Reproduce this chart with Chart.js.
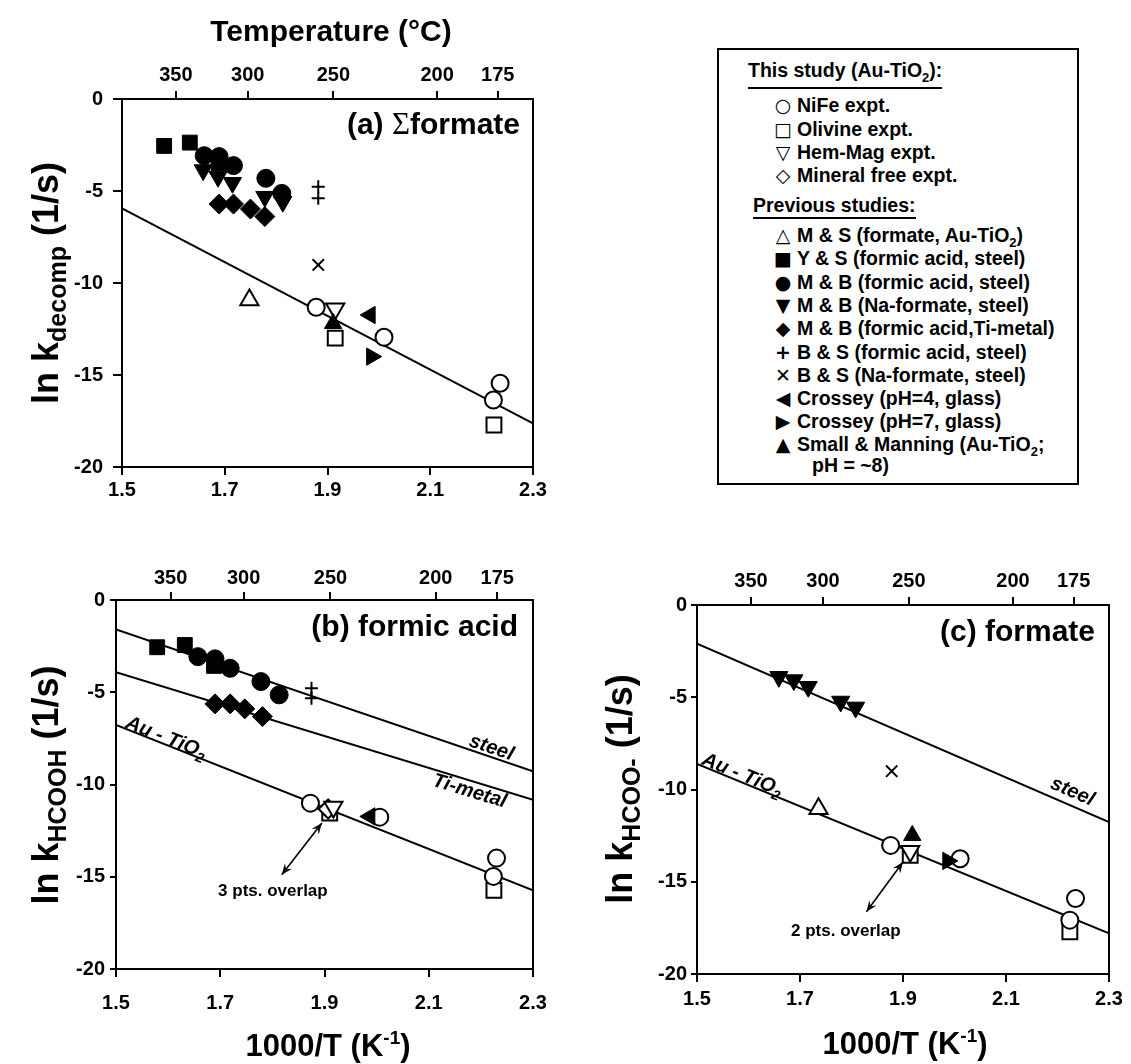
<!DOCTYPE html>
<html><head><meta charset="utf-8">
<script src="https://cdn.jsdelivr.net/npm/chart.js@4.4.1/dist/chart.umd.min.js"></script>
<style>
html,body{margin:0;padding:0;background:#fff;}
#wrap{position:relative;width:1131px;height:1064px;overflow:hidden;background:#fff;}
#wrap canvas{position:absolute;left:0;top:0;}
#legend{position:absolute;left:717px;top:48px;width:362px;height:437px;border:2px solid #000;box-sizing:border-box;font-family:"Liberation Sans",Arial,sans-serif;font-weight:bold;font-size:19.5px;color:#000;background:#fff;}
.row{position:absolute;left:0;height:24px;line-height:24px;white-space:nowrap;width:100%;}
.mk{position:absolute;left:54px;width:20px;text-align:center;font-family:"DejaVu Sans",sans-serif;font-size:19px;}
.tx{position:absolute;left:78px;}
.hd{position:absolute;border-bottom:2px solid #000;line-height:24px;height:24px;white-space:nowrap;}
sub{font-size:13px;vertical-align:-5px;line-height:0;}
</style></head>
<body><div id="wrap">
<canvas id="ca" width="1131" height="1064" style="width:1131px;height:1064px"></canvas>
<canvas id="cb" width="1131" height="1064" style="width:1131px;height:1064px"></canvas>
<canvas id="cc" width="1131" height="1064" style="width:1131px;height:1064px"></canvas>
<div id="legend">
 <div class="hd" style="left:29px;top:8px;padding-bottom:5px;">This study (Au-TiO<sub>2</sub>):</div>
 <div class="row" style="top:43px"><span class="mk">○</span><span class="tx">NiFe expt.</span></div>
 <div class="row" style="top:67px"><span class="mk">□</span><span class="tx">Olivine expt.</span></div>
 <div class="row" style="top:90px"><span class="mk">▽</span><span class="tx">Hem-Mag expt.</span></div>
 <div class="row" style="top:113px"><span class="mk">◇</span><span class="tx">Mineral free expt.</span></div>
 <div class="hd" style="left:34px;top:143px;padding-bottom:0px;">Previous studies:</div>
 <div class="row" style="top:173px"><span class="mk">△</span><span class="tx">M &amp; S (formate, Au-TiO<sub>2</sub>)</span></div>
 <div class="row" style="top:196px"><span class="mk">■</span><span class="tx">Y &amp; S (formic acid, steel)</span></div>
 <div class="row" style="top:220px"><span class="mk">●</span><span class="tx">M &amp; B (formic acid, steel)</span></div>
 <div class="row" style="top:243px"><span class="mk">▼</span><span class="tx">M &amp; B (Na-formate, steel)</span></div>
 <div class="row" style="top:266px"><span class="mk">◆</span><span class="tx">M &amp; B (formic acid,Ti-metal)</span></div>
 <div class="row" style="top:290px"><span class="mk" style="font-weight:bold">+</span><span class="tx">B &amp; S (formic acid, steel)</span></div>
 <div class="row" style="top:313px"><span class="mk">✕</span><span class="tx">B &amp; S (Na-formate, steel)</span></div>
 <div class="row" style="top:336px"><span class="mk">◀</span><span class="tx">Crossey (pH=4, glass)</span></div>
 <div class="row" style="top:359px"><span class="mk">▶</span><span class="tx">Crossey (pH=7, glass)</span></div>
 <div class="row" style="top:382px"><span class="mk">▲</span><span class="tx">Small &amp; Manning (Au-TiO<sub>2</sub>;</span></div>
 <div class="row" style="top:403px"><span class="tx" style="left:93px">pH = ~8)</span></div>
</div>
</div>
<script>
// ---------- axis ticks ----------
const xTicks = [1.5, 1.7, 1.9, 2.1, 2.3];
const yTicks = [0, -5, -10, -15, -20];
const tempTicksC = [350, 300, 250, 200, 175];

// ---------- panel (a) Σformate ----------
const a_NiFe    = [[1.878,-11.32],[2.010,-12.95],[2.236,-15.45],[2.223,-16.36]];
const a_Olivine = [[1.915,-13.0],[2.224,-17.72]];
const a_HemMag  = [[1.915,-11.40]];
const a_MS      = [[1.748,-10.92]];
const a_YS      = [[1.582,-2.55],[1.632,-2.37],[1.688,-3.5]];
const a_MBacid  = [[1.660,-3.08],[1.689,-3.13],[1.717,-3.62],[1.780,-4.31],[1.811,-5.13]];
const a_MBna    = [[1.658,-3.86],[1.687,-4.22],[1.715,-4.55],[1.778,-5.31],[1.813,-5.58]];
const a_MBti    = [[1.689,-5.71],[1.717,-5.71],[1.750,-5.98],[1.778,-6.39]];
const a_BSacid  = [[1.882,-4.77],[1.882,-5.40]];
const a_BSna    = [[1.882,-9.02]];
const a_C4      = [[1.983,-11.74]];
const a_C7      = [[1.986,-14.0]];
const a_SM      = [[1.911,-12.2]];
const a_fitAu   = [[1.5,-5.94],[2.3,-17.63]];

// ---------- panel (b) formic acid ----------
const b_NiFe    = [[1.873,-11.01],[2.006,-11.77],[2.230,-13.99],[2.224,-14.98]];
const b_Olivine = [[1.910,-11.55],[2.225,-15.74]];
const b_HemMag  = [[1.917,-11.22]];
const b_MinFree = [[1.907,-11.33]];
const b_YS      = [[1.579,-2.56],[1.632,-2.44],[1.688,-3.57]];
const b_MBacid  = [[1.657,-3.07],[1.690,-3.19],[1.719,-3.70],[1.778,-4.42],[1.813,-5.14]];
const b_MBti    = [[1.690,-5.63],[1.719,-5.63],[1.747,-5.90],[1.781,-6.32]];
const b_BSacid  = [[1.875,-4.78],[1.875,-5.32]];
const b_C4      = [[1.987,-11.73]];
const b_fitSteel= [[1.5,-1.59],[2.3,-9.29]];
const b_fitTi   = [[1.5,-3.92],[2.3,-10.83]];
const b_fitAu   = [[1.5,-6.77],[2.3,-15.74]];

// ---------- panel (c) formate ----------
const c_NiFe    = [[1.876,-13.03],[2.011,-13.75],[2.235,-15.91],[2.224,-17.08]];
const c_Olivine = [[1.914,-13.57],[2.224,-17.71]];
const c_HemMag  = [[1.914,-13.35]];
const c_MS      = [[1.736,-11.05]];
const c_MBna    = [[1.659,-3.89],[1.688,-4.07],[1.716,-4.43],[1.779,-5.23],[1.808,-5.55]];
const c_BSna    = [[1.878,-9.01]];
const c_C7      = [[1.987,-13.87]];
const c_SM      = [[1.918,-12.49]];
const c_fitSteel= [[1.5,-2.09],[2.3,-11.77]];
const c_fitAu   = [[1.5,-8.61],[2.3,-17.80]];

// ---------- styles ----------
const FF = '"Liberation Sans", Arial, sans-serif';
const tickFont = {family: FF, size: 20, weight: 'bold'};
const STY = {
  NiFe:    {ps:'circle',  r:8.5, fill:'#fff', bw:2},
  Olivine: {ps:'rect',    r:10.5,fill:'#fff', bw:2},
  HemMag:  {ps:'triangle',r:10.5,fill:'#fff', bw:2, rot:180},
  MinFree: {ps:'rectRot', r:9.5, fill:'#fff', bw:2},
  MS:      {ps:'triangle',r:10.5,fill:'#fff', bw:2},
  YS:      {ps:'rect',    r:10.5,fill:'#000', bw:1},
  MBacid:  {ps:'circle',  r:9,   fill:'#000', bw:1},
  MBna:    {ps:'triangle',r:10.5,fill:'#000', bw:1, rot:180},
  MBti:    {ps:'rectRot', r:10,  fill:'#000', bw:1},
  BSacid:  {ps:'cross',   r:6.5, fill:'#000', bw:2},
  BSna:    {ps:'crossRot',r:8,   fill:'#000', bw:2},
  C4:      {ps:'triangle',r:10,  fill:'#000', bw:1, rot:270},
  C7:      {ps:'triangle',r:10,  fill:'#000', bw:1, rot:90},
  SM:      {ps:'triangle',r:10,  fill:'#000', bw:1}
};
const toXY = a => a.map(p => ({x:p[0], y:p[1]}));
function pointDs(key, arr){
  const s = STY[key];
  return {label:key, data:toXY(arr), showLine:false, order:1,
    pointStyle:s.ps, pointRadius:s.r, pointHoverRadius:s.r, pointRotation:s.rot||0,
    pointBackgroundColor:s.fill, pointBorderColor:'#000', pointBorderWidth:s.bw, pointHoverBorderWidth:s.bw};
}
function lineDs(name, arr){
  return {label:name, data:toXY(arr), showLine:true, order:10, borderColor:'#000', borderWidth:2,
    pointRadius:0, pointHoverRadius:0, fill:false, tension:0};
}

function fontStr(r){ return (r.it?'italic ':'') + (r.wt||'bold') + ' ' + r.s + 'px ' + (r.fam||FF); }
function drawRuns(ctx, list, x, y, align, ang){
  ctx.save(); ctx.translate(x, y); ctx.rotate(ang||0);
  let total = 0;
  list.forEach(r => { ctx.font = fontStr(r); r._w = ctx.measureText(r.t).width; total += r._w; });
  let cx = align==='center' ? -total/2 : (align==='right' ? -total : 0);
  ctx.fillStyle = '#000'; ctx.textAlign = 'left'; ctx.textBaseline = 'alphabetic';
  list.forEach(r => { ctx.font = fontStr(r); ctx.fillText(r.t, cx, r.dy||0); cx += r._w; });
  ctx.restore();
}
function head(ctx, x, y, ang){
  ctx.save(); ctx.translate(x, y); ctx.rotate(ang);
  ctx.beginPath(); ctx.moveTo(0,0); ctx.lineTo(-11,-4.5); ctx.lineTo(-7,0); ctx.lineTo(-11,4.5); ctx.closePath(); ctx.fill();
  ctx.restore();
}
function decoPlugin(cfg){
  return {id:'deco', afterDraw(c){
    const ctx = c.ctx, xs = c.scales.x, ys = c.scales.y, a = c.chartArea;
    const P = d => [xs.getPixelForValue(d[0]), ys.getPixelForValue(d[1])];
    ctx.save(); ctx.strokeStyle = '#000'; ctx.lineWidth = 2;
    ctx.strokeRect(a.left, a.top, a.right-a.left, a.bottom-a.top); ctx.restore();
    (cfg.texts||[]).forEach(t => drawRuns(ctx, t.runs, t.x, t.y, t.align, t.rot||0));
    (cfg.lineLabels||[]).forEach(l => {
      const p1 = P(l.line[0]), p2 = P(l.line[1]);
      const ang = Math.atan2(p2[1]-p1[1], p2[0]-p1[0]);
      const p = P(l.at);
      drawRuns(ctx, l.runs, p[0], p[1], 'center', ang);
    });
    (cfg.notes||[]).forEach(n => { const p = P(n.at); drawRuns(ctx, n.runs, p[0], p[1], 'center', 0); });
    (cfg.arrows||[]).forEach(ar => {
      const p1 = P(ar.from), p2 = P(ar.to);
      const ang = Math.atan2(p2[1]-p1[1], p2[0]-p1[0]);
      ctx.save(); ctx.strokeStyle = '#000'; ctx.fillStyle = '#000'; ctx.lineWidth = 1.6;
      ctx.beginPath(); ctx.moveTo(p1[0], p1[1]); ctx.lineTo(p2[0], p2[1]); ctx.stroke();
      head(ctx, p2[0], p2[1], ang);
      head(ctx, p1[0], p1[1], ang + Math.PI);
      ctx.restore();
    });
  }};
}

function scalesCfg(g){
  const grid = len => ({display:true, drawOnChartArea:false, drawTicks:true, tickLength:len, color:'#000', lineWidth:2});
  return {
    x: {type:'linear', position:'bottom', min:1.5, max:2.3,
        afterBuildTicks: s => { s.ticks = xTicks.map(v => ({value:v})); },
        afterFit: s => { s.height = g.xh; },
        ticks:{autoSkip:false, maxRotation:0, minRotation:0, color:'#000', font:tickFont, padding:g.xb[1], callback: v => v.toFixed(1)},
        grid:grid(g.xb[0]), border:{display:false}},
    xt:{type:'linear', position:'top', min:1.5, max:2.3,
        afterBuildTicks: s => { s.ticks = tempTicksC.map(t => ({value:1000/(t+273.15)})); },
        afterFit: s => { s.height = g.th; },
        ticks:{autoSkip:false, maxRotation:0, minRotation:0, color:'#000', font:tickFont, padding:g.xt[1], callback: (v,i) => String(tempTicksC[i])},
        grid:grid(g.xt[0]), border:{display:false}},
    y: {type:'linear', position:'left', min:-20, max:0,
        afterBuildTicks: s => { s.ticks = yTicks.map(v => ({value:v})); },
        afterFit: s => { s.width = g.yw; },
        ticks:{autoSkip:false, color:'#000', font:tickFont, padding:g.y[1], callback: v => String(v)},
        grid:grid(g.y[0]), border:{display:false}}
  };
}

function makeChart(id, datasets, g, deco){
  const W = 1131, H = 1064;
  return new Chart(document.getElementById(id), {
    type:'scatter',
    data:{datasets},
    options:{
      responsive:false, animation:false, devicePixelRatio:1,
      layout:{padding:{left:g.L-g.yw, right:W-g.R, top:g.T-g.th, bottom:H-g.B-g.xh}},
      plugins:{legend:{display:false}, tooltip:{enabled:false}},
      scales: scalesCfg(g)
    },
    plugins:[decoPlugin(deco)]
  });
}

const yTitle = sub => [{t:'ln k', s:36}, {t:sub, s:25, dy:8}, {t:' (1/s)', s:36}];
const xTitle = [{t:'1000/T (K', s:31}, {t:'-1', s:19, dy:-12}, {t:')', s:31}];
const auRuns = [{t:'Au - TiO', s:20, it:true, dy:7}, {t:'2', s:14, it:true, dy:12}];

// panel (a)
makeChart('ca', [
  pointDs('SM', a_SM), pointDs('C4', a_C4), pointDs('C7', a_C7), pointDs('BSna', a_BSna), pointDs('BSacid', a_BSacid),
  pointDs('MBacid', a_MBacid), pointDs('MBna', a_MBna), pointDs('MBti', a_MBti), pointDs('YS', a_YS),
  pointDs('NiFe', a_NiFe), pointDs('HemMag', a_HemMag), pointDs('Olivine', a_Olivine), pointDs('MS', a_MS),
  lineDs('fit', a_fitAu)
], {L:122, R:533, T:99, B:467, yw:60, th:50, xh:45, y:[9,10], xb:[8,3], xt:[8,4]}, {
  texts:[
    {runs:[{t:'(a) ', s:30}, {t:'Σ', s:31, fam:'"Liberation Serif", serif', wt:'normal'}, {t:'formate', s:30}], x:520, y:134, align:'right'},
    {runs:[{t:'Temperature (°C)', s:30}], x:331, y:41, align:'center'},
    {runs:yTitle('decomp'), x:58, y:283, align:'center', rot:-Math.PI/2}
  ]
});

// panel (b)
makeChart('cb', [
  pointDs('C4', b_C4), pointDs('BSacid', b_BSacid), pointDs('MBacid', b_MBacid), pointDs('MBti', b_MBti), pointDs('YS', b_YS),
  pointDs('NiFe', b_NiFe), pointDs('HemMag', b_HemMag), pointDs('MinFree', b_MinFree), pointDs('Olivine', b_Olivine),
  lineDs('steel', b_fitSteel), lineDs('Ti-metal', b_fitTi), lineDs('Au-TiO2', b_fitAu)
], {L:116, R:533, T:600, B:969, yw:56, th:50, xh:50, y:[6,5], xb:[8,14], xt:[8,2]}, {
  texts:[
    {runs:[{t:'(b) formic acid', s:30}], x:518, y:636, align:'right'},
    {runs:yTitle('HCOOH'), x:58, y:785, align:'center', rot:-Math.PI/2},
    {runs:xTitle, x:328, y:1056, align:'center'}
  ],
  lineLabels:[
    {runs:[{t:'steel', s:20, it:true, dy:7}], at:[2.221,-7.94], line:b_fitSteel},
    {runs:[{t:'Ti-metal', s:20, it:true, dy:7}], at:[2.179,-10.29], line:b_fitTi},
    {runs:auRuns, at:[1.597,-7.40], line:b_fitAu}
  ],
  notes:[{runs:[{t:'3 pts. overlap', s:17, dy:6}], at:[1.801,-15.74]}],
  arrows:[{from:[1.818,-14.89], to:[1.895,-12.09]}]
});

// panel (c)
makeChart('cc', [
  pointDs('SM', c_SM), pointDs('C7', c_C7), pointDs('BSna', c_BSna), pointDs('MBna', c_MBna),
  pointDs('NiFe', c_NiFe), pointDs('HemMag', c_HemMag), pointDs('Olivine', c_Olivine), pointDs('MS', c_MS),
  lineDs('steel', c_fitSteel), lineDs('Au-TiO2', c_fitAu)
], {L:697, R:1109, T:605, B:974, yw:56, th:50, xh:45, y:[6,4], xb:[8,5], xt:[8,4]}, {
  texts:[
    {runs:[{t:'(c) formate', s:30}], x:1095, y:641, align:'right'},
    {runs:yTitle('HCOO-'), x:632, y:789, align:'center', rot:-Math.PI/2},
    {runs:xTitle, x:905, y:1054, align:'center'}
  ],
  lineLabels:[
    {runs:[{t:'steel', s:20, it:true, dy:7}], at:[2.230,-10.05], line:c_fitSteel},
    {runs:auRuns, at:[1.589,-9.14], line:c_fitAu}
  ],
  notes:[{runs:[{t:'2 pts. overlap', s:17, dy:6}], at:[1.789,-17.62]}],
  arrows:[{from:[1.829,-16.63], to:[1.900,-13.93]}]
});
</script>
</body></html>
